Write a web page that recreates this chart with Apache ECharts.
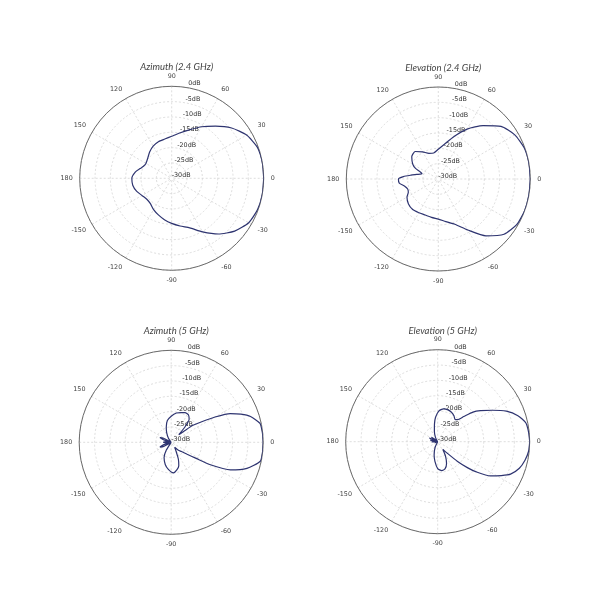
<!DOCTYPE html>
<html>
<head>
<meta charset="utf-8">
<script src="https://cdn.jsdelivr.net/npm/echarts@6/dist/echarts.min.js"></script>
<style>html,body{margin:0;padding:0;background:#fff}#c{width:600px;height:600px}</style>
</head>
<body>
<div id="c"></div>
<script>
// ---- data (angle in degrees, gain in dB) ----
const titles = ['Azimuth (2.4 GHz)', 'Elevation (2.4 GHz)', 'Azimuth (5 GHz)', 'Elevation (5 GHz)'];
const dbTicks = [-30, -25, -20, -15, -10, -5, 0];

const az24Angles = [0,10,20,30,40,50,60,70,80,90,100,110,120,130,140,150,157,163,170,180,190,200,210,220,230,240,250,260,270,280,290,300,310,320,330,340,350,360];
const az24Db     = [0,0,-0.3,-1.8,-4.5,-7.8,-10.6,-13.2,-15.0,-16.3,-17.0,-17.3,-17.9,-18.8,-19.8,-20.3,-20.0,-19.2,-18.0,-17.0,-17.1,-17.8,-18.8,-19.4,-19.2,-18.2,-17.3,-16.3,-15.3,-14.2,-12.8,-9.8,-6.3,-3.2,-1.0,-0.2,0,0];

const el24Angles = [0,10,20,30,40,50,60,70,80,90,100,110,120,130,140,150,155,162,168,172,176,180,186,192,198,204,210,220,230,240,250,260,270,280,290,300,310,320,330,340,350,360];
const el24Db     = [0,0,-0.2,-1.2,-3.3,-7.3,-11.2,-15.3,-18.5,-20.3,-21.4,-21.1,-19.8,-18.3,-18.7,-20.4,-21.8,-24.4,-22.8,-21.0,-18.6,-17.0,-17.2,-18.8,-19.5,-19.3,-18.2,-17.3,-17.0,-17.3,-17.5,-17.3,-16.9,-15.9,-14.3,-10.8,-5.8,-2.0,-0.4,0,0,0];

const az5Angles = [0,6,12,18,22,26,30,34,38,41,45,48,52,58,65,72,80,90,100,108,115,125,135,145,152,157,162,170,176,180,184,190,198,203,208,215,225,232,238,245,255,264,274,282,288,293,298,305,312,318,323,327,330,335,341,348,354,360];
const az5Db     = [0,-0.1,-0.4,-2.8,-5.5,-8.6,-13.5,-18,-21,-24.5,-26.5,-23.5,-20.5,-19.4,-19.3,-19.8,-20.3,-21.5,-22.8,-24.8,-26.5,-28.5,-30,-29.5,-27,-26,-27.5,-29.5,-28,-27.5,-28,-29.5,-27.5,-26,-27,-29.5,-30,-30,-27,-24.5,-22.5,-21.1,-20,-20.9,-22,-24,-26.5,-28,-26.5,-25.5,-23.5,-20.5,-15.5,-8.7,-3.9,-0.3,-0.05,0];

const el5Angles = [0,6,12,18,24,30,36,40,44,48,52,58,65,72,80,88,95,100,108,118,128,138,145,150,156,162,168,175,182,190,200,210,230,245,255,262,270,278,285,292,298,304,310,315,319,322,327,332,336,342,348,354,360];
const el5Db     = [0,-0.2,-0.6,-2.5,-5.5,-9.5,-12.8,-15,-18.2,-20.3,-20.8,-20,-19.4,-19.1,-19.1,-20,-22,-24,-26.5,-28.5,-30,-29,-27.5,-29.5,-27,-29.8,-27.5,-29.5,-28,-30,-29,-30,-30,-28,-25.5,-23.5,-21.2,-20.5,-20.8,-22.3,-24.5,-27,-25,-21,-17,-14,-9.5,-6.5,-4,-2,-0.9,-0.2,0];

const patterns = [[az24Angles, az24Db], [el24Angles, el24Db], [az5Angles, az5Db], [el5Angles, el5Db]];

// ---- layout ----
const centers = [[171.7, 178.3], [438.3, 179], [171.2, 442.3], [437.7, 441.7]];
const R = 92;
const lineColor = '#2e3470';

const chart = echarts.init(document.getElementById('c'), null, {renderer: 'canvas'});

function angleLabel(v) {
  if (v === 450) return '';
  let d = v % 360;
  if (d > 180) d -= 360;
  return String(d);
}
function toAxisAngle(a) { return a < 90 ? a + 360 : a; }

// radial labels sit along a slightly tilted line (shift grows with radius)
const rich = {};
dbTicks.forEach((t, k) => {
  rich['s' + k] = {fontSize: 6.4, color: '#333', fontFamily: 'DejaVu Sans', padding: [0, 0, 5, k * 2.75]};
});
function radiusLabel(v) {
  const k = dbTicks.indexOf(v);
  return '{s' + k + '|' + v + 'dB}';
}

const option = {
  animation: false,
  backgroundColor: '#fff',
  title: titles.map((t, i) => ({
    text: t,
    left: centers[i][0],
    top: centers[i][1] - 121,
    textAlign: 'center',
    textStyle: {fontSize: 9.5, fontStyle: 'italic', fontWeight: 'normal', color: '#444', fontFamily: 'Lato'}
  })),
  polar: centers.map(c => ({center: c, radius: R})),
  angleAxis: centers.map((c, i) => ({
    polarIndex: i,
    type: 'value',
    min: 90, max: 450, interval: 30,
    startAngle: 90,
    clockwise: false,
    axisLine: {show: true, lineStyle: {color: '#6b6b6b', width: 1}},
    axisTick: {show: false},
    axisLabel: {formatter: angleLabel, fontSize: 6.4, color: '#444', margin: 7, fontFamily: 'DejaVu Sans'},
    splitLine: {show: true, lineStyle: {color: '#d4d4d4', type: [2, 2], width: 0.8}}
  })),
  radiusAxis: centers.map((c, i) => ({
    polarIndex: i,
    type: 'value',
    min: dbTicks[0], max: dbTicks[dbTicks.length - 1], interval: 5,
    axisLine: {show: false},
    axisTick: {show: false},
    axisLabel: {inside: true, margin: 0, align: 'left', verticalAlign: 'middle', formatter: radiusLabel, rich: rich},
    splitLine: {show: true, lineStyle: {color: '#d4d4d4', type: [2, 2], width: 0.8}}
  })),
  series: patterns.map((p, i) => ({
    type: 'line',
    coordinateSystem: 'polar',
    polarIndex: i,
    showSymbol: false,
    smooth: 0.2,
    clip: false,
    lineStyle: {color: lineColor, width: 1.2},
    data: p[0].map((a, k) => [Math.max(p[1][k], -30), toAxisAngle(a)])
  }))
};
chart.setOption(option);
</script>
</body>
</html>
